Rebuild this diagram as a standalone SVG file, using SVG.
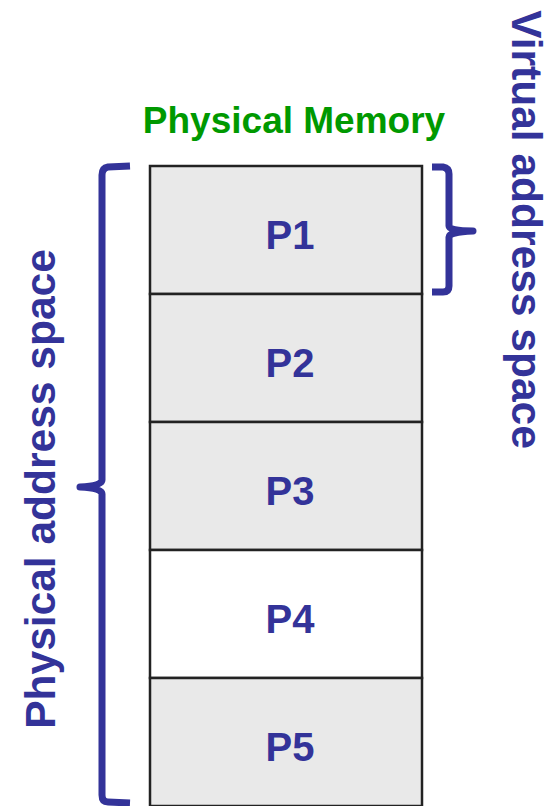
<svg xmlns="http://www.w3.org/2000/svg" width="554" height="806" viewBox="0 0 554 806">
  <style>
    .cell { stroke: #222222; stroke-width: 2.5; }
    .grey { fill: #e9e9e9; }
    .white { fill: #ffffff; }
    .lbl { font-family: "Liberation Sans", Arial, sans-serif; font-weight: bold; font-size: 40px; fill: #333399; text-anchor: middle; }
    .side { font-family: "Liberation Sans", Arial, sans-serif; font-weight: bold; font-size: 42.5px; fill: #333399; text-anchor: middle; }
    .title { font-family: "Liberation Sans", Arial, sans-serif; font-weight: bold; font-size: 37px; fill: #009900; text-anchor: middle; }
    .brace { fill: none; stroke: #333399; stroke-width: 7; stroke-linejoin: round; stroke-linecap: butt; }
  </style>
  <rect width="554" height="806" fill="#ffffff"/>

  <text class="title" x="294" y="133">Physical Memory</text>

  <g id="p1"><rect class="cell grey" x="150" y="166" width="272" height="128"/><text class="lbl" x="290" y="249">P1</text></g>
  <g id="p2"><rect class="cell grey" x="150" y="294" width="272" height="128"/><text class="lbl" x="290" y="377">P2</text></g>
  <g id="p3"><rect class="cell grey" x="150" y="422" width="272" height="128"/><text class="lbl" x="290" y="505">P3</text></g>
  <g id="p4"><rect class="cell white" x="150" y="550" width="272" height="128"/><text class="lbl" x="290" y="633">P4</text></g>
  <g id="p5"><rect class="cell grey" x="150" y="678" width="272" height="128"/><text class="lbl" x="290" y="761">P5</text></g>

  <g id="connectors">
    <!-- brace spanning the whole physical memory -->
    <path class="brace" d="M130 166 L108 167 Q102 168 102 175 L102 480 Q102 486 80 487 Q102 488 102 494 L102 795 Q102 802 108 802 L130 803"/>
    <!-- brace spanning P1 only -->
    <path class="brace" d="M432 167 L443 167 Q449 168 449 174 L449 226 Q449 231 473 231 Q449 232 449 237 L449 286 Q449 292 443 292 L432 292"/>
  </g>

  <text class="side" transform="translate(55 489) rotate(-90)">Physical address space</text>
  <text class="side" transform="translate(512 229.5) rotate(90)">Virtual address space</text>
</svg>
